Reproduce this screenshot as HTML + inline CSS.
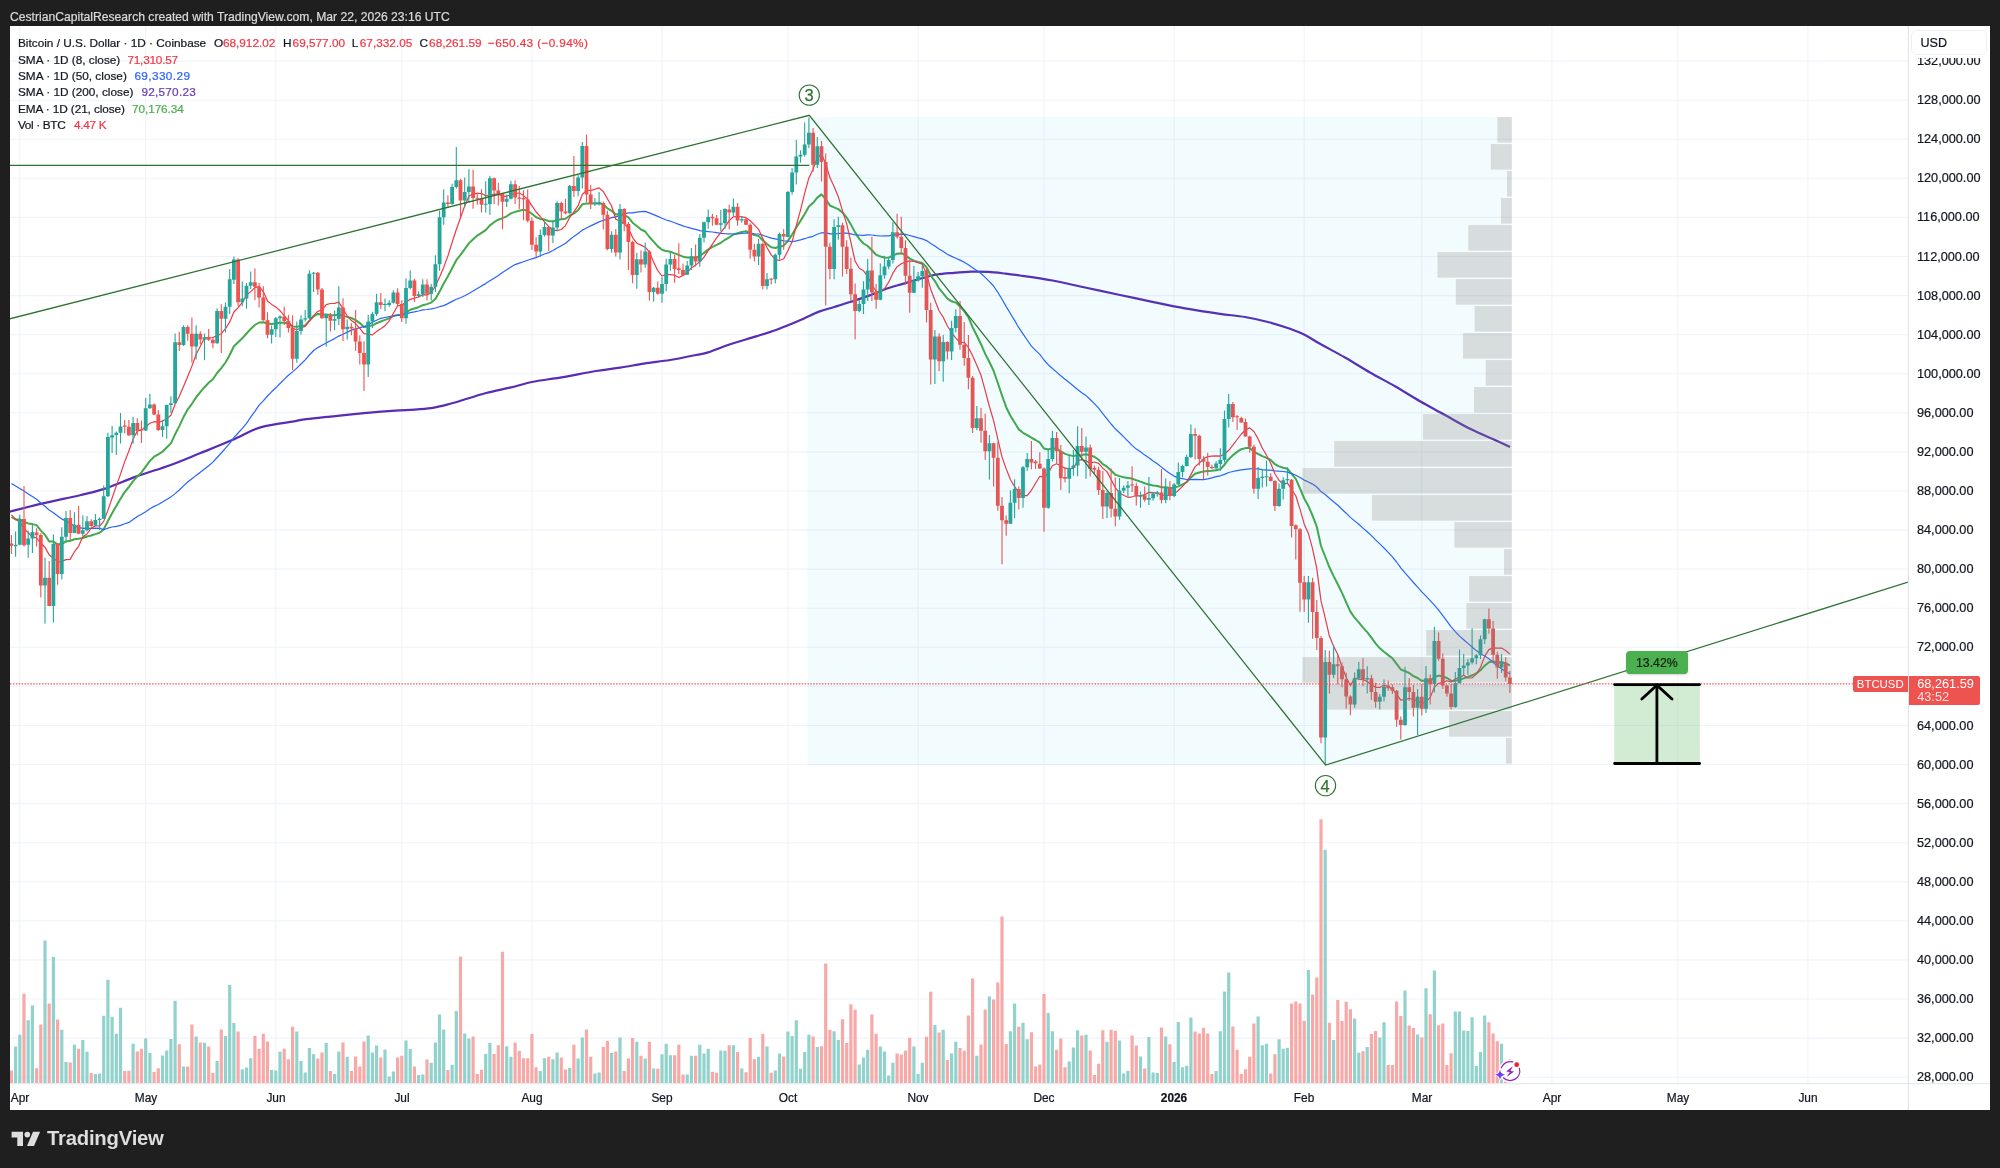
<!DOCTYPE html>
<html lang="en">
<head>
<meta charset="utf-8">
<title>BTCUSD chart</title>
<style>
html,body{margin:0;padding:0}
#hdr,.lg,.pl,.tl,#usd,#sym,#last,#pct,#tv{will-change:transform}
#hdr,.lg,.pl,.tl,#usd,#pct{-webkit-text-stroke:.22px currentColor}
body{width:2000px;height:1168px;background:#1f1f1f;position:relative;overflow:hidden;font-family:"Liberation Sans",sans-serif;color:#131722}
#hdr{position:absolute;left:9.8px;top:9.6px;font-size:12.15px;line-height:15px;color:#dadada;white-space:nowrap}
#panel{position:absolute;left:10px;top:26px;width:1980px;height:1084px;background:#fff}
#chart{position:absolute;left:0;top:0;width:2000px;height:1168px}
.lg{position:absolute;left:17.6px;font-size:11.8px;line-height:16px;height:16px;white-space:nowrap;color:#131722}
.lg span.a{position:absolute;top:0}
.red{color:#f23645}.blue{color:#2962ff}.pur{color:#673ab7}.grn{color:#4caf50}
.pl{position:absolute;left:1917px;font-size:12.7px;line-height:16px;white-space:nowrap;color:#131722}
.tl{position:absolute;top:1090.2px;width:60px;text-align:center;font-size:11.9px;line-height:16px;color:#131722}
.tl.b{font-weight:bold}
#usd{position:absolute;left:1911px;top:29.5px;width:76px;height:25px;border:1px solid #eef0f5;border-radius:5px;box-sizing:border-box;background:#fff;font-size:12.6px;line-height:24.2px;padding-left:8.5px}
#usdcover{position:absolute;left:1909.5px;top:26px;width:80.5px;height:31.6px;background:#fff}
#sym{position:absolute;left:1853px;top:676px;width:54.5px;height:16.2px;background:#ef5350;color:#fff;font-size:11.4px;line-height:16.4px;text-align:center;border-radius:2px 0 0 2px}
#last{position:absolute;left:1908.5px;top:676px;width:71.2px;height:29.4px;background:#ef5350;color:#fff;font-size:12.75px;line-height:13.4px;border-radius:0 2px 2px 0;padding:0.6px 0 0 8.2px;box-sizing:border-box}
#last i{font-style:normal;color:rgba(255,255,255,.82)}
#pct{position:absolute;left:1625.8px;top:651.2px;width:61.7px;height:23.1px;background:#4caf50;border-radius:4px;font-size:12.3px;line-height:25.6px;text-align:center;color:#14230f;box-shadow:0 1px 2px rgba(0,0,0,.18)}
.wv{position:absolute;width:20px;height:20px;line-height:20.6px;text-align:center;font-size:16.5px;color:#2e7332;will-change:transform;-webkit-text-stroke:.25px currentColor}
#tv{position:absolute;left:46.8px;top:1126.4px;font-size:20.3px;line-height:24px;font-weight:bold;color:#dedede;letter-spacing:-0.22px;white-space:nowrap}
</style>
</head>
<body>
<div id="hdr">CestrianCapitalResearch created with TradingView.com, Mar 22, 2026 23:16 UTC</div>
<div id="panel"></div>

<svg id="chart" width="2000" height="1168" viewBox="0 0 2000 1168">
<defs>
<clipPath id="pane"><rect x="10" y="26" width="1898" height="1057.5"/></clipPath>
</defs>
<g clip-path="url(#pane)">
<path d="M10 61.1H1908M10 100.2H1908M10 139.3H1908M10 178.3H1908M10 217.4H1908M10 256.5H1908M10 295.6H1908M10 334.7H1908M10 373.7H1908M10 412.8H1908M10 451.9H1908M10 491H1908M10 530.1H1908M10 569.1H1908M10 608.2H1908M10 647.3H1908M10 686.4H1908M10 725.5H1908M10 764.5H1908M10 803.6H1908M10 842.7H1908M10 881.8H1908M10 920.9H1908M10 959.9H1908M10 999H1908M10 1038.1H1908M10 1077.2H1908M19.8 26V1083.5M145.7 26V1083.5M275.8 26V1083.5M401.8 26V1083.5M531.9 26V1083.5M662 26V1083.5M787.9 26V1083.5M918.1 26V1083.5M1044 26V1083.5M1174.1 26V1083.5M1304.2 26V1083.5M1421.8 26V1083.5M1551.9 26V1083.5M1677.8 26V1083.5M1807.9 26V1083.5" stroke="#f0f3fa" stroke-width="1.1" fill="none"/>
<path d="M14 1083v-36.4h3.2V1083zM18.2 1083v-48.3h3.2V1083zM26.6 1083v-62.7h3.2V1083zM30.8 1083v-77.4h3.2V1083zM43.4 1083v-142.4h3.2V1083zM51.8 1083v-126h3.2V1083zM60.2 1083v-53.2h3.2V1083zM64.4 1083v-21h3.2V1083zM72.8 1083v-38.2h3.2V1083zM81.2 1083v-43.1h3.2V1083zM85.4 1083v-31.2h3.2V1083zM93.8 1083v-9.1h3.2V1083zM98 1083v-9.5h3.2V1083zM102.1 1083v-67.2h3.2V1083zM106.3 1083v-103.3h3.2V1083zM110.5 1083v-66.2h3.2V1083zM114.7 1083v-49.3h3.2V1083zM118.9 1083v-75.3h3.2V1083zM131.5 1083v-39.2h3.2V1083zM144.1 1083v-44.5h3.2V1083zM148.3 1083v-30.1h3.2V1083zM160.9 1083v-27.6h3.2V1083zM165.1 1083v-32.5h3.2V1083zM169.3 1083v-44.1h3.2V1083zM173.5 1083v-82.2h3.2V1083zM181.9 1083v-16.4h3.2V1083zM194.5 1083v-46.5h3.2V1083zM202.9 1083v-40.2h3.2V1083zM215.5 1083v-22.1h3.2V1083zM223.9 1083v-46.9h3.2V1083zM228.1 1083v-98h3.2V1083zM232.3 1083v-59.9h3.2V1083zM240.7 1083v-13.7h3.2V1083zM244.9 1083v-15.4h3.2V1083zM249.1 1083v-24.8h3.2V1083zM270 1083v-12.9h3.2V1083zM274.2 1083v-12.6h3.2V1083zM278.4 1083v-31.2h3.2V1083zM295.2 1083v-51.5h3.2V1083zM299.4 1083v-22.1h3.2V1083zM303.6 1083v-10.5h3.2V1083zM307.8 1083v-35h3.2V1083zM312 1083v-28.7h3.2V1083zM324.6 1083v-39.9h3.2V1083zM333 1083v-9.1h3.2V1083zM337.2 1083v-31.5h3.2V1083zM345.6 1083v-26.3h3.2V1083zM366.6 1083v-47.6h3.2V1083zM370.8 1083v-30.5h3.2V1083zM375 1083v-37.4h3.2V1083zM383.4 1083v-33.6h3.2V1083zM387.6 1083v-6.6h3.2V1083zM391.8 1083v-11.5h3.2V1083zM404.4 1083v-42.4h3.2V1083zM408.6 1083v-34h3.2V1083zM417 1083v-8.1h3.2V1083zM421.2 1083v-8.4h3.2V1083zM429.6 1083v-20.3h3.2V1083zM433.8 1083v-40.6h3.2V1083zM437.9 1083v-68.6h3.2V1083zM442.1 1083v-53.5h3.2V1083zM450.5 1083v-18.2h3.2V1083zM454.7 1083v-72.1h3.2V1083zM463.1 1083v-49.4h3.2V1083zM467.3 1083v-44.5h3.2V1083zM484.1 1083v-29.1h3.2V1083zM488.3 1083v-39.9h3.2V1083zM505.1 1083v-36.8h3.2V1083zM509.3 1083v-26.3h3.2V1083zM538.7 1083v-11.9h3.2V1083zM542.9 1083v-24.8h3.2V1083zM551.3 1083v-23.8h3.2V1083zM555.5 1083v-30.5h3.2V1083zM568.1 1083v-15.1h3.2V1083zM576.5 1083v-24.5h3.2V1083zM580.7 1083v-45.5h3.2V1083zM593.3 1083v-9.5h3.2V1083zM597.5 1083v-10.5h3.2V1083zM610 1083v-30.1h3.2V1083zM618.4 1083v-45.5h3.2V1083zM635.2 1083v-41.3h3.2V1083zM643.6 1083v-24.5h3.2V1083zM652 1083v-14.4h3.2V1083zM660.4 1083v-28.7h3.2V1083zM664.6 1083v-39.2h3.2V1083zM668.8 1083v-27.7h3.2V1083zM685.6 1083v-8.4h3.2V1083zM689.8 1083v-27.3h3.2V1083zM698.2 1083v-38.2h3.2V1083zM702.4 1083v-29.4h3.2V1083zM706.6 1083v-34.3h3.2V1083zM719.2 1083v-32.5h3.2V1083zM723.4 1083v-32.2h3.2V1083zM731.8 1083v-37.8h3.2V1083zM740.2 1083v-14.4h3.2V1083zM757 1083v-26.3h3.2V1083zM765.4 1083v-36.4h3.2V1083zM773.7 1083v-12.6h3.2V1083zM777.9 1083v-29.4h3.2V1083zM786.3 1083v-51.4h3.2V1083zM790.5 1083v-46.9h3.2V1083zM794.7 1083v-62.7h3.2V1083zM798.9 1083v-14.3h3.2V1083zM803.1 1083v-31.1h3.2V1083zM807.3 1083v-48.3h3.2V1083zM815.7 1083v-36h3.2V1083zM832.5 1083v-51.8h3.2V1083zM836.7 1083v-43.1h3.2V1083zM857.7 1083v-18.5h3.2V1083zM861.9 1083v-25.6h3.2V1083zM866.1 1083v-33.3h3.2V1083zM878.7 1083v-36.4h3.2V1083zM882.9 1083v-31.5h3.2V1083zM887.1 1083v-7.4h3.2V1083zM891.3 1083v-20.3h3.2V1083zM912.3 1083v-36.4h3.2V1083zM916.5 1083v-9.1h3.2V1083zM920.7 1083v-20.3h3.2V1083zM933.3 1083v-58.1h3.2V1083zM941.6 1083v-53.2h3.2V1083zM950 1083v-29.4h3.2V1083zM954.2 1083v-41.3h3.2V1083zM975.2 1083v-27.3h3.2V1083zM987.8 1083v-86.5h3.2V1083zM1008.8 1083v-51.8h3.2V1083zM1013 1083v-79.4h3.2V1083zM1021.4 1083v-60.2h3.2V1083zM1025.6 1083v-43.7h3.2V1083zM1046.6 1083v-70h3.2V1083zM1050.8 1083v-51.8h3.2V1083zM1067.6 1083v-21.4h3.2V1083zM1071.8 1083v-35.4h3.2V1083zM1076 1083v-52.8h3.2V1083zM1084.4 1083v-48.3h3.2V1083zM1105.4 1083v-41.3h3.2V1083zM1117.9 1083v-42.4h3.2V1083zM1122.1 1083v-9.5h3.2V1083zM1126.3 1083v-12.3h3.2V1083zM1138.9 1083v-26.6h3.2V1083zM1147.3 1083v-45.9h3.2V1083zM1151.5 1083v-10.5h3.2V1083zM1155.7 1083v-10.1h3.2V1083zM1164.1 1083v-46.5h3.2V1083zM1172.5 1083v-21h3.2V1083zM1176.7 1083v-60.9h3.2V1083zM1180.9 1083v-15.7h3.2V1083zM1185.1 1083v-17.2h3.2V1083zM1189.3 1083v-65.5h3.2V1083zM1214.5 1083v-11.9h3.2V1083zM1218.7 1083v-51.8h3.2V1083zM1222.9 1083v-91.4h3.2V1083zM1227.1 1083v-110.6h3.2V1083zM1256.5 1083v-66.5h3.2V1083zM1260.7 1083v-37.8h3.2V1083zM1264.9 1083v-39.2h3.2V1083zM1277.5 1083v-43.7h3.2V1083zM1281.6 1083v-34.3h3.2V1083zM1285.8 1083v-35.3h3.2V1083zM1306.8 1083v-112.9h3.2V1083zM1323.6 1083v-233.3h3.2V1083zM1332 1083v-42.9h3.2V1083zM1353 1083v-64.5h3.2V1083zM1357.2 1083v-30.3h3.2V1083zM1365.6 1083v-36h3.2V1083zM1378.2 1083v-45.4h3.2V1083zM1382.4 1083v-60.8h3.2V1083zM1403.4 1083v-92.6h3.2V1083zM1416 1083v-48.4h3.2V1083zM1424.4 1083v-94.8h3.2V1083zM1432.8 1083v-112.4h3.2V1083zM1453.7 1083v-71.5h3.2V1083zM1457.9 1083v-71.5h3.2V1083zM1462.1 1083v-52.6h3.2V1083zM1466.3 1083v-52.1h3.2V1083zM1470.5 1083v-65.8h3.2V1083zM1474.7 1083v-16.9h3.2V1083zM1478.9 1083v-31h3.2V1083zM1483.1 1083v-67.5h3.2V1083zM1499.9 1083v-39.2h3.2V1083z" fill="#92d2cc"/>
<path d="M9.8 1083v-12.6h3.2V1083zM22.4 1083v-89.3h3.2V1083zM35 1083v-14.7h3.2V1083zM39.2 1083v-58.5h3.2V1083zM47.6 1083v-79.5h3.2V1083zM56 1083v-63.4h3.2V1083zM68.6 1083v-20.6h3.2V1083zM77 1083v-34.3h3.2V1083zM89.6 1083v-10.1h3.2V1083zM123.1 1083v-11.9h3.2V1083zM127.3 1083v-12.3h3.2V1083zM135.7 1083v-31.5h3.2V1083zM139.9 1083v-34.3h3.2V1083zM152.5 1083v-10.9h3.2V1083zM156.7 1083v-14.7h3.2V1083zM177.7 1083v-38.8h3.2V1083zM186.1 1083v-16.4h3.2V1083zM190.3 1083v-58.5h3.2V1083zM198.7 1083v-40.6h3.2V1083zM207.1 1083v-36.4h3.2V1083zM211.3 1083v-10.1h3.2V1083zM219.7 1083v-53.5h3.2V1083zM236.5 1083v-51.4h3.2V1083zM253.3 1083v-46.9h3.2V1083zM257.5 1083v-34.3h3.2V1083zM261.7 1083v-49.3h3.2V1083zM265.9 1083v-41.6h3.2V1083zM282.6 1083v-34.3h3.2V1083zM286.8 1083v-23.8h3.2V1083zM291 1083v-56.3h3.2V1083zM316.2 1083v-24.5h3.2V1083zM320.4 1083v-30.5h3.2V1083zM328.8 1083v-11.9h3.2V1083zM341.4 1083v-40.6h3.2V1083zM349.8 1083v-11.9h3.2V1083zM354 1083v-26.6h3.2V1083zM358.2 1083v-16.5h3.2V1083zM362.4 1083v-41.6h3.2V1083zM379.2 1083v-25.6h3.2V1083zM396 1083v-25.6h3.2V1083zM400.2 1083v-27.3h3.2V1083zM412.8 1083v-16.5h3.2V1083zM425.4 1083v-23.4h3.2V1083zM446.3 1083v-12.9h3.2V1083zM458.9 1083v-126.4h3.2V1083zM471.5 1083v-46.5h3.2V1083zM475.7 1083v-9.1h3.2V1083zM479.9 1083v-13.3h3.2V1083zM492.5 1083v-29.1h3.2V1083zM496.7 1083v-37.8h3.2V1083zM500.9 1083v-131.3h3.2V1083zM513.5 1083v-40.6h3.2V1083zM517.7 1083v-32.2h3.2V1083zM521.9 1083v-24.8h3.2V1083zM526.1 1083v-24.8h3.2V1083zM530.3 1083v-49h3.2V1083zM534.5 1083v-15.7h3.2V1083zM547.1 1083v-26.3h3.2V1083zM559.7 1083v-25.6h3.2V1083zM563.9 1083v-13.6h3.2V1083zM572.3 1083v-38.2h3.2V1083zM584.9 1083v-53.5h3.2V1083zM589.1 1083v-26.3h3.2V1083zM601.7 1083v-36h3.2V1083zM605.8 1083v-42h3.2V1083zM614.2 1083v-31.5h3.2V1083zM622.6 1083v-11.9h3.2V1083zM626.8 1083v-24.5h3.2V1083zM631 1083v-45.1h3.2V1083zM639.4 1083v-27.3h3.2V1083zM647.8 1083v-41.3h3.2V1083zM656.2 1083v-14.3h3.2V1083zM673 1083v-27.7h3.2V1083zM677.2 1083v-38.2h3.2V1083zM681.4 1083v-8.4h3.2V1083zM694 1083v-27.3h3.2V1083zM710.8 1083v-11.2h3.2V1083zM715 1083v-10.2h3.2V1083zM727.6 1083v-37.8h3.2V1083zM736 1083v-31.1h3.2V1083zM744.4 1083v-10.8h3.2V1083zM748.6 1083v-45.1h3.2V1083zM752.8 1083v-23.8h3.2V1083zM761.2 1083v-49h3.2V1083zM769.6 1083v-10.2h3.2V1083zM782.1 1083v-26.6h3.2V1083zM811.5 1083v-46.5h3.2V1083zM819.9 1083v-36.8h3.2V1083zM824.1 1083v-119.4h3.2V1083zM828.3 1083v-53.2h3.2V1083zM840.9 1083v-63.7h3.2V1083zM845.1 1083v-39.9h3.2V1083zM849.3 1083v-78.7h3.2V1083zM853.5 1083v-73.2h3.2V1083zM870.3 1083v-68.6h3.2V1083zM874.5 1083v-49.3h3.2V1083zM895.5 1083v-29.4h3.2V1083zM899.7 1083v-28.4h3.2V1083zM903.9 1083v-32.5h3.2V1083zM908.1 1083v-45.2h3.2V1083zM924.9 1083v-46.2h3.2V1083zM929.1 1083v-91.3h3.2V1083zM937.5 1083v-50.4h3.2V1083zM945.8 1083v-23.1h3.2V1083zM958.4 1083v-35h3.2V1083zM962.6 1083v-32.2h3.2V1083zM966.8 1083v-67.6h3.2V1083zM971 1083v-104.6h3.2V1083zM979.4 1083v-38.5h3.2V1083zM983.6 1083v-73.5h3.2V1083zM992 1083v-83.6h3.2V1083zM996.2 1083v-100.4h3.2V1083zM1000.4 1083v-166.5h3.2V1083zM1004.6 1083v-38.9h3.2V1083zM1017.2 1083v-56.3h3.2V1083zM1029.8 1083v-50.8h3.2V1083zM1034 1083v-16.5h3.2V1083zM1038.2 1083v-18.5h3.2V1083zM1042.4 1083v-88.9h3.2V1083zM1055 1083v-33.2h3.2V1083zM1059.2 1083v-44.4h3.2V1083zM1063.4 1083v-15.7h3.2V1083zM1080.2 1083v-47.6h3.2V1083zM1088.6 1083v-32.5h3.2V1083zM1092.8 1083v-8.1h3.2V1083zM1097 1083v-19.2h3.2V1083zM1101.2 1083v-52.8h3.2V1083zM1109.5 1083v-53.2h3.2V1083zM1113.7 1083v-52.2h3.2V1083zM1130.5 1083v-47.6h3.2V1083zM1134.7 1083v-37.4h3.2V1083zM1143.1 1083v-14.4h3.2V1083zM1159.9 1083v-55.6h3.2V1083zM1168.3 1083v-38.8h3.2V1083zM1193.5 1083v-51.4h3.2V1083zM1197.7 1083v-49.4h3.2V1083zM1201.9 1083v-55.3h3.2V1083zM1206.1 1083v-49.4h3.2V1083zM1210.3 1083v-9.1h3.2V1083zM1231.3 1083v-56.4h3.2V1083zM1235.5 1083v-33.3h3.2V1083zM1239.7 1083v-9.1h3.2V1083zM1243.9 1083v-13.7h3.2V1083zM1248.1 1083v-26.3h3.2V1083zM1252.3 1083v-59.5h3.2V1083zM1269.1 1083v-9.5h3.2V1083zM1273.3 1083v-28.7h3.2V1083zM1290 1083v-79.4h3.2V1083zM1294.2 1083v-81.4h3.2V1083zM1298.4 1083v-79.4h3.2V1083zM1302.6 1083v-62.1h3.2V1083zM1311 1083v-88.6h3.2V1083zM1315.2 1083v-105.5h3.2V1083zM1319.4 1083v-263.8h3.2V1083zM1327.8 1083v-60.3h3.2V1083zM1336.2 1083v-83.1h3.2V1083zM1340.4 1083v-62.1h3.2V1083zM1344.6 1083v-81.2h3.2V1083zM1348.8 1083v-73.7h3.2V1083zM1361.4 1083v-31.8h3.2V1083zM1369.8 1083v-49.1h3.2V1083zM1374 1083v-52.1h3.2V1083zM1386.6 1083v-17.9h3.2V1083zM1390.8 1083v-17.9h3.2V1083zM1395 1083v-81.4h3.2V1083zM1399.2 1083v-67h3.2V1083zM1407.6 1083v-57.6h3.2V1083zM1411.8 1083v-55.1h3.2V1083zM1420.2 1083v-45.4h3.2V1083zM1428.6 1083v-68.8h3.2V1083zM1437 1083v-57.8h3.2V1083zM1441.2 1083v-59.6h3.2V1083zM1445.3 1083v-17.9h3.2V1083zM1449.5 1083v-29.8h3.2V1083zM1487.3 1083v-60.8h3.2V1083zM1491.5 1083v-49.6h3.2V1083zM1495.7 1083v-41.7h3.2V1083zM1504.1 1083v-20.6h3.2V1083zM1508.3 1083v-24.1h3.2V1083z" fill="#f7a9a7"/>

<path d="M9.9 511.6 C15.4 510.2 31.1 506.1 42.8 503.4 C54.5 500.7 70 497.5 80 495.2 C90 492.9 93 492.5 102.5 489.4 C112 486.3 125.4 480.4 136.7 476.4 C147.9 472.4 159.5 469 170 465.2 C180.5 461.4 189.7 457.4 199.9 453.3 C210.1 449.2 222.1 444.5 231 440.6 C239.9 436.7 247.4 432.4 253.1 430 C258.8 427.6 258.3 427.6 265.1 426.1 C271.9 424.7 287.7 422.4 294 421.3 C300.3 420.2 296.7 420.4 302.7 419.6 C308.7 418.8 321.4 417.5 330 416.6 C338.6 415.7 344.4 415 354.1 414.1 C363.8 413.2 377.4 412 388.4 411.2 C399.4 410.4 412.4 409.8 420 409.2 C427.6 408.6 429 408.5 434 407.6 C439 406.7 445.7 404.9 450 403.8 C454.3 402.7 454 402.8 460 401 C466 399.2 477.7 395.2 486 393 C494.3 390.8 502.3 389.4 510 387.6 C517.7 385.8 523.7 383.7 532 382 C540.3 380.3 549.3 379.4 560 377.6 C570.7 375.8 586 372.7 596 371 C606 369.3 612 368.8 620 367.6 C628 366.4 635.7 364.9 644 363.6 C652.3 362.3 661.3 361.4 670 360 C678.7 358.6 689.7 356.3 696 355 C702.3 353.7 702.7 354.1 708 352.4 C713.3 350.7 720 347.7 728 345 C736 342.3 748 338.9 756 336.4 C764 333.9 770.7 331.9 776 330 C781.3 328.1 783.3 327.1 788 325.2 C792.7 323.3 798.8 320.7 804 318.4 C809.2 316.1 814 313.5 819 311.6 C824 309.7 828.9 308.6 834.2 307 C839.5 305.4 845.3 303.7 851 301.8 C856.7 299.9 862.7 298 868.5 295.9 C874.3 293.8 879.9 291 885.6 289 C891.3 287 897 285.6 902.7 283.9 C908.4 282.2 914.2 280.4 919.9 278.8 C925.6 277.2 931.3 275.5 937 274.5 C942.7 273.5 948.4 273.3 954.1 272.8 C959.8 272.3 965.5 271.8 971.2 271.6 C976.9 271.5 982.7 271.6 988.4 271.9 C994.1 272.2 1000.2 273 1005.5 273.6 C1010.8 274.2 1012.2 274.4 1020 275.5 C1027.8 276.6 1041.7 278.5 1052.5 280.5 C1063.3 282.5 1073.8 285.1 1085 287.5 C1096.2 289.9 1109.2 292.7 1120 295 C1130.8 297.3 1139.2 299.1 1150 301.3 C1160.8 303.5 1173.3 306.2 1185 308.3 C1196.7 310.4 1210 312.4 1220 313.8 C1230 315.2 1236.7 315.6 1245 317 C1253.3 318.4 1262.5 320.5 1270 322.5 C1277.5 324.5 1284.2 326.7 1290 328.8 C1295.8 330.9 1300 332.5 1305 335 C1310 337.5 1313.3 340.1 1320 343.8 C1326.7 347.6 1336.7 352.7 1345 357.5 C1353.3 362.3 1361.7 367.7 1370 372.5 C1378.3 377.3 1386.7 381.5 1395 386.3 C1403.3 391.1 1411.7 396.5 1420 401.3 C1428.3 406.1 1436.7 410.4 1445 415 C1453.3 419.6 1461.7 424.6 1470 428.8 C1478.3 433 1488.3 437 1495 440 C1501.7 443 1507.5 445.8 1510 447" stroke="#5a2cb4" stroke-width="2.2" fill="none" stroke-linejoin="round"/>
<path d="M11.4 517 L15.6 519.5 L19.8 519.5 L24 521.8 L28.2 523.4 L32.4 524.1 L36.6 525.1 L40.8 530.6 L45 534.9 L49.2 541.4 L53.4 541.6 L57.6 544.6 L61.8 543.8 L66 541.5 L70.2 540.7 L74.4 539.3 L78.6 538.8 L82.8 538 L87 536.5 L91.2 535.5 L95.4 534.1 L99.6 532.7 L103.7 529.4 L107.9 521 L112.1 513.2 L116.3 505.9 L120.5 498.7 L124.7 492.1 L128.9 487 L133.1 481.1 L137.3 476.6 L141.5 472.4 L145.7 466.6 L149.9 460.9 L154.1 456.7 L158.3 454.3 L162.5 451.7 L166.7 447.5 L170.9 443.4 L175.1 434.3 L179.3 426.1 L183.5 417.1 L187.7 409.5 L191.9 403.8 L196.1 397.4 L200.3 392.2 L204.5 387.2 L208.7 382.8 L212.9 379.2 L217.1 373 L221.3 368.1 L225.5 362.5 L229.7 355 L233.9 346.3 L238.1 342.3 L242.3 338.3 L246.5 333.5 L250.7 328.9 L254.9 325 L259.1 322.5 L263.3 322.3 L267.5 323.5 L271.6 324 L275.8 323.5 L280 322.8 L284.2 322.7 L288.4 323.2 L292.6 326.4 L296.8 326.8 L301 326.1 L305.2 325.4 L309.4 320.7 L313.6 316.4 L317.8 313.9 L322 314.3 L326.2 314.4 L330.4 315 L334.6 315.3 L338.8 314.6 L343 315.9 L347.2 316.9 L351.4 318 L355.6 320.1 L359.8 323.1 L364 326.9 L368.2 326.4 L372.4 325.3 L376.6 323.2 L380.8 321.5 L385 319.9 L389.2 318.4 L393.4 316 L397.6 314.9 L401.8 315.2 L406 312.7 L410.2 309.8 L414.4 308.5 L418.6 307.2 L422.8 305.2 L427 304.1 L431.2 302.6 L435.4 299.1 L439.6 291.6 L443.7 283.5 L447.9 276.3 L452.1 268.2 L456.3 260.2 L460.5 254.8 L464.7 249.1 L468.9 243.4 L473.1 239.2 L477.3 235.6 L481.5 232.8 L485.7 230.1 L489.9 225.4 L494.1 222.2 L498.3 219.7 L502.5 218.1 L506.7 216.3 L510.9 213.4 L515.1 211.9 L519.3 210.7 L523.5 209.7 L527.7 210.7 L531.9 213.8 L536.1 217.2 L540.3 218.9 L544.5 219.6 L548.7 221 L552.9 221.6 L557.1 219.9 L561.3 219.2 L565.5 218.7 L569.7 215.7 L573.9 213.4 L578.1 210.2 L582.3 204.3 L586.5 203.4 L590.7 203.5 L594.9 203.4 L599.1 203.3 L603.3 204.3 L607.4 208.4 L611.6 210.8 L615.8 214.6 L620 214.1 L624.2 215 L628.4 217.4 L632.6 222.7 L636.8 226 L641 229.5 L645.2 231.5 L649.4 237 L653.6 241.6 L657.8 246.4 L662 249.8 L666.2 251.1 L670.4 251.8 L674.6 253.4 L678.8 254.9 L683 256.7 L687.2 257.5 L691.4 257.4 L695.6 257.8 L699.8 256 L704 252.9 L708.2 249.6 L712.4 246.8 L716.6 244.8 L720.8 242.8 L725 239.8 L729.2 237.3 L733.4 234.5 L737.6 233.2 L741.8 232 L746 231.3 L750.2 233 L754.4 235.1 L758.6 235.9 L762.8 240.5 L767 244 L771.2 247.3 L775.3 248 L779.5 246.7 L783.7 245.7 L787.9 240.9 L792.1 234.6 L796.3 227.5 L800.5 220.9 L804.7 214 L808.9 206.6 L813.1 202.8 L817.3 197.6 L821.5 194.4 L825.7 199.1 L829.9 205.5 L834.1 207.4 L838.3 209.1 L842.5 212.5 L846.7 217.6 L850.9 224.6 L855.1 232.4 L859.3 238.9 L863.5 243.5 L867.7 246 L871.9 250.2 L876.1 254.7 L880.3 256.6 L884.5 257.5 L888.7 257.7 L892.9 255.4 L897.1 253.7 L901.3 253.2 L905.5 255.2 L909.7 258.6 L913.9 260.6 L918.1 262 L922.3 262.9 L926.5 267.1 L930.7 275.5 L934.9 281.1 L939.1 288.4 L943.2 293.3 L947.4 298.6 L951.6 301.3 L955.8 302.6 L960 306.4 L964.2 311.1 L968.4 317.2 L972.6 327.2 L976.8 335.5 L981 344.2 L985.2 353.9 L989.4 362 L993.6 370.7 L997.8 383 L1002 395.5 L1006.2 407.2 L1010.4 415.8 L1014.6 422.5 L1018.8 429.4 L1023 432.8 L1027.2 435.2 L1031.4 437.7 L1035.6 440 L1039.8 442.6 L1044 448.5 L1048.2 449.5 L1052.4 448.4 L1056.6 448.7 L1060.8 451.4 L1065 453.9 L1069.2 455.1 L1073.4 456.1 L1077.6 455.2 L1081.8 454.9 L1086 454.2 L1090.2 455.5 L1094.4 456.8 L1098.6 459.8 L1102.8 464.1 L1107 466.7 L1111.1 470.5 L1115.3 474.7 L1119.5 476.1 L1123.7 477.2 L1127.9 477.9 L1132.1 478.6 L1136.3 480.2 L1140.5 481.6 L1144.7 483.3 L1148.9 484.6 L1153.1 485.4 L1157.3 486 L1161.5 487.3 L1165.7 487.3 L1169.9 488.1 L1174.1 487.8 L1178.3 486.4 L1182.5 484.5 L1186.7 482 L1190.9 477.6 L1195.1 473.8 L1199.3 472.5 L1203.5 471.5 L1207.7 471.1 L1211.9 470.8 L1216.1 470.2 L1220.3 469.2 L1224.5 464.7 L1228.7 459.2 L1232.9 455.3 L1237.1 451.9 L1241.3 449.2 L1245.5 448.1 L1249.7 447.9 L1253.9 451.7 L1258.1 454 L1262.3 456.1 L1266.5 457.9 L1270.7 460 L1274.9 464.2 L1279 466.4 L1283.2 467.7 L1287.4 468.7 L1291.6 473.9 L1295.8 478.9 L1300 488.4 L1304.2 498.5 L1308.4 506.1 L1312.6 515.7 L1316.8 526.8 L1321 546 L1325.2 556.5 L1329.4 567.3 L1333.6 576.1 L1337.8 584.3 L1342 592.9 L1346.2 602.3 L1350.4 611.6 L1354.6 617.7 L1358.8 622.4 L1363 627.6 L1367.2 632.1 L1371.4 637.6 L1375.6 643.4 L1379.8 648.3 L1384 651.8 L1388.2 655.1 L1392.4 658.3 L1396.6 663.9 L1400.8 669.5 L1405 671.1 L1409.2 673 L1413.4 676.1 L1417.6 678 L1421.8 680.8 L1426 680.6 L1430.2 680.9 L1434.4 677.2 L1438.6 675.6 L1442.8 676.5 L1446.9 678 L1451.1 680.7 L1455.3 680.9 L1459.5 679.7 L1463.7 678.4 L1467.9 677 L1472.1 675.3 L1476.3 673.4 L1480.5 670.3 L1484.7 665.7 L1488.9 662.3 L1493.1 661.6 L1497.3 662.2 L1501.5 662.1 L1505.7 663.5 L1509.9 665.4" stroke="#44a948" stroke-width="2" fill="none" stroke-linejoin="round"/>
<path d="M11.4 483.4 L15.6 486.1 L19.8 488.5 L24 491.1 L28.2 494 L32.4 496.5 L36.6 499.2 L40.8 503 L45 506.3 L49.2 510.1 L53.4 512.7 L57.6 516 L61.8 518.9 L66 521.1 L70.2 523.6 L74.4 525.9 L78.6 527.4 L82.8 528.3 L87 528.2 L91.2 528.3 L95.4 528.2 L99.6 528.3 L103.7 529.6 L107.9 528.2 L112.1 527 L116.3 526.3 L120.5 525.4 L124.7 523.8 L128.9 522.4 L133.1 519.6 L137.3 516.5 L141.5 514.3 L145.7 511.8 L149.9 508.7 L154.1 506.4 L158.3 504.5 L162.5 502.1 L166.7 499.6 L170.9 496.9 L175.1 493.6 L179.3 490 L183.5 485.9 L187.7 482 L191.9 478.7 L196.1 475.4 L200.3 472.3 L204.5 469 L208.7 465.8 L212.9 462.1 L217.1 457.5 L221.3 453 L225.5 448.2 L229.7 443.4 L233.9 437.7 L238.1 433 L242.3 428.3 L246.5 423.3 L250.7 417.2 L254.9 411.4 L259.1 405.2 L263.3 400.8 L267.5 396 L271.6 391.8 L275.8 387.8 L280 383.5 L284.2 379.4 L288.4 375.3 L292.6 371.9 L296.8 368.1 L301 364 L305.2 359.9 L309.4 355 L313.6 350.5 L317.8 347.6 L322 345.3 L326.2 342.9 L330.4 340.8 L334.6 338.6 L338.8 336.1 L343 334.2 L347.2 332.1 L351.4 330.1 L355.6 328.8 L359.8 327.7 L364 326.7 L368.2 324.6 L372.4 322.3 L376.6 320.3 L380.8 318.3 L385 317.5 L389.2 316.7 L393.4 316 L397.6 315.4 L401.8 314.8 L406 313.9 L410.2 312.7 L414.4 311.9 L418.6 311 L422.8 309.8 L427 309.5 L431.2 308.8 L435.4 308 L439.6 306.7 L443.7 305.6 L447.9 303.6 L452.1 301.4 L456.3 299.3 L460.5 297.7 L464.7 295.8 L468.9 293.5 L473.1 291.1 L477.3 288.4 L481.5 285.9 L485.7 283.6 L489.9 280.8 L494.1 278.2 L498.3 275.5 L502.5 272.4 L506.7 269.8 L510.9 267.1 L515.1 264.6 L519.3 263.1 L523.5 261.7 L527.7 260.3 L531.9 258.8 L536.1 257.6 L540.3 255.8 L544.5 254 L548.7 252.6 L552.9 250.5 L557.1 248.1 L561.3 245.7 L565.5 243.2 L569.7 239.8 L573.9 236.4 L578.1 233.5 L582.3 230.1 L586.5 228 L590.7 225.9 L594.9 223.9 L599.1 221.9 L603.3 220.3 L607.4 219.2 L611.6 217.6 L615.8 216.9 L620 215.4 L624.2 214 L628.4 212.9 L632.6 212.8 L636.8 212.1 L641 211.6 L645.2 211.4 L649.4 212.9 L653.6 214.6 L657.8 216.4 L662 218.3 L666.2 220 L670.4 221.2 L674.6 222.7 L678.8 224.4 L683 225.9 L687.2 227.2 L691.4 228.3 L695.6 229.4 L699.8 230.6 L704 231.2 L708.2 231.7 L712.4 232 L716.6 232.6 L720.8 233.3 L725 233.6 L729.2 233.8 L733.4 234 L737.6 234 L741.8 233.5 L746 233 L750.2 233.2 L754.4 233.8 L758.6 234 L762.8 235.2 L767 236.7 L771.2 238.1 L775.3 238.9 L779.5 239.8 L783.7 240.8 L787.9 241 L792.1 241.6 L796.3 240.8 L800.5 239.8 L804.7 238.7 L808.9 237.3 L813.1 236.3 L817.3 234.2 L821.5 232.8 L825.7 232.7 L829.9 233.9 L834.1 233.9 L838.3 233.6 L842.5 233 L846.7 233.2 L850.9 233.8 L855.1 235 L859.3 235.2 L863.5 235.3 L867.7 234.8 L871.9 235 L876.1 235.7 L880.3 236 L884.5 235.9 L888.7 235.8 L892.9 234.9 L897.1 234.3 L901.3 234.2 L905.5 234.4 L909.7 235.5 L913.9 236.7 L918.1 237.9 L922.3 238.9 L926.5 240.6 L930.7 243.4 L934.9 245.9 L939.1 248.9 L943.2 251.6 L947.4 254.2 L951.6 256.4 L955.8 258.2 L960 260.1 L964.2 262.2 L968.4 264.8 L972.6 267.7 L976.8 270.4 L981 273.5 L985.2 277.4 L989.4 281.6 L993.6 286 L997.8 292.3 L1002 299.2 L1006.2 306.6 L1010.4 313.5 L1014.6 320.4 L1018.8 327.7 L1023 333.8 L1027.2 340 L1031.4 346.1 L1035.6 350.4 L1039.8 354.4 L1044 360 L1048.2 364.7 L1052.4 368.5 L1056.6 372.1 L1060.8 375.8 L1065 379.2 L1069.2 382.5 L1073.4 386 L1077.6 389.5 L1081.8 392.7 L1086 395.6 L1090.2 399.5 L1094.4 403.6 L1098.6 408.2 L1102.8 413.7 L1107 418.8 L1111.1 424 L1115.3 428.8 L1119.5 432.8 L1123.7 436.9 L1127.9 441.1 L1132.1 445.4 L1136.3 449.1 L1140.5 451.8 L1144.7 455.1 L1148.9 457.8 L1153.1 460.9 L1157.3 463.7 L1161.5 467.1 L1165.7 470.5 L1169.9 473.6 L1174.1 476.1 L1178.3 478 L1182.5 478.7 L1186.7 479.5 L1190.9 479.6 L1195.1 479.3 L1199.3 479.6 L1203.5 479.7 L1207.7 478.9 L1211.9 477.8 L1216.1 476.6 L1220.3 475.8 L1224.5 474.4 L1228.7 472.5 L1232.9 471.5 L1237.1 470.7 L1241.3 469.9 L1245.5 469.3 L1249.7 468.9 L1253.9 468.5 L1258.1 468.9 L1262.3 469.7 L1266.5 470.2 L1270.7 470.2 L1274.9 470.8 L1279 471.2 L1283.2 471.5 L1287.4 472.1 L1291.6 473.6 L1295.8 475.3 L1300 477.5 L1304.2 480.1 L1308.4 482 L1312.6 484.1 L1316.8 487 L1321 491.6 L1325.2 494.5 L1329.4 498.2 L1333.6 501.7 L1337.8 505.3 L1342 509.2 L1346.2 513.2 L1350.4 517.4 L1354.6 520.9 L1358.8 524.3 L1363 528.1 L1367.2 531.8 L1371.4 535.6 L1375.6 539.9 L1379.8 543.9 L1384 548 L1388.2 552.3 L1392.4 556.8 L1396.6 562 L1400.8 567.9 L1405 572.9 L1409.2 577.6 L1413.4 582.5 L1417.6 587.1 L1421.8 591.9 L1426 596.2 L1430.2 600.7 L1434.4 605.1 L1438.6 610.2 L1442.8 615.6 L1446.9 621.1 L1451.1 626.8 L1455.3 631.7 L1459.5 636.1 L1463.7 639.7 L1467.9 643.4 L1472.1 647 L1476.3 650.6 L1480.5 653.7 L1484.7 656 L1488.9 658.8 L1493.1 662.3 L1497.3 666.1 L1501.5 668.8 L1505.7 671.7 L1509.9 673.8" stroke="#2962ff" stroke-width="1.2" fill="none" stroke-linejoin="round"/>
<path d="M11.4 514.9 L15.6 519.2 L19.8 522.1 L24 528.2 L28.2 532.8 L32.4 536.9 L36.6 538 L40.8 543.3 L45 547.3 L49.2 554.9 L53.4 558 L57.6 561.6 L61.8 561.4 L66 559.6 L70.2 559.4 L74.4 551.8 L78.6 546.3 L82.8 536.8 L87 534 L91.2 528 L95.4 525.9 L99.6 526 L103.7 521.4 L107.9 510.4 L112.1 498.1 L116.3 485.9 L120.5 474.1 L124.7 461.6 L128.9 451 L133.1 439.1 L137.3 430.9 L141.5 430.1 L145.7 426.7 L149.9 423.2 L154.1 421.7 L158.3 422.1 L162.5 421 L166.7 418.7 L170.9 415.3 L175.1 404.2 L179.3 396.3 L183.5 386.6 L187.7 376.5 L191.9 366.1 L196.1 354.5 L200.3 346.3 L204.5 338.1 L208.7 337.8 L212.9 337.5 L217.1 335.6 L221.3 333.7 L225.5 328.7 L229.7 321.9 L233.9 312 L238.1 307.6 L242.3 302.4 L246.5 295.2 L250.7 291.6 L254.9 287.6 L259.1 286.5 L263.3 291.6 L267.5 301 L271.6 304.4 L275.8 306.9 L280 310.7 L284.2 315.6 L288.4 320.7 L292.6 328.4 L296.8 329.7 L301 327.8 L305.2 326.4 L309.4 320.8 L313.6 315.4 L317.8 311.4 L322 310.2 L326.2 304.7 L330.4 303.5 L334.6 303.4 L338.8 302.1 L343 309 L347.2 315.8 L351.4 320.6 L355.6 323.6 L359.8 328.3 L364 333.7 L368.2 334.1 L372.4 334.9 L376.6 331.5 L380.8 328.8 L385 325.7 L389.2 320.9 L393.4 313.3 L397.6 305.7 L401.8 305.3 L406 302.1 L410.2 299.3 L414.4 298.2 L418.6 297 L422.8 294.7 L427 294.9 L431.2 292.7 L435.4 286 L439.6 277.1 L443.7 267.4 L447.9 255.9 L452.1 242.5 L456.3 229.5 L460.5 217.8 L464.7 206 L468.9 196.2 L473.1 193.8 L477.3 193.4 L481.5 193.5 L485.7 195.6 L489.9 195.3 L494.1 194.1 L498.3 194.3 L502.5 196.2 L506.7 196.3 L510.9 194.5 L515.1 193.6 L519.3 193 L523.5 195.6 L527.7 199.4 L531.9 205.7 L536.1 212 L540.3 216.5 L544.5 221.8 L548.7 226.6 L552.9 230.2 L557.1 230.6 L561.3 229.5 L565.5 225.6 L569.7 217.4 L573.9 211.9 L578.1 205.7 L582.3 194.5 L586.5 190.4 L590.7 190.5 L594.9 189.3 L599.1 187.9 L603.3 191.5 L607.4 198.8 L611.6 206 L615.8 219.2 L620 221.1 L624.2 223.6 L628.4 228.5 L632.6 237.6 L636.8 243.2 L641 245.1 L645.2 247.2 L649.4 252.2 L653.6 262 L657.8 270.7 L662 276 L666.2 274.6 L670.4 274.6 L674.6 275.2 L678.8 277.5 L683 275.4 L687.2 272.6 L691.4 267.9 L695.6 265.1 L699.8 261.8 L704 257.1 L708.2 250.7 L712.4 244.2 L716.6 237.9 L720.8 232.6 L725 226.8 L729.2 220.6 L733.4 216.8 L737.6 216.5 L741.8 216.8 L746 217.7 L750.2 220.8 L754.4 224.9 L758.6 229.3 L762.8 238.5 L767 247.5 L771.2 254.9 L775.3 259.4 L779.5 260.5 L783.7 258.8 L787.9 250.8 L792.1 241.8 L796.3 225.6 L800.5 210.1 L804.7 193.2 L808.9 177.9 L813.1 169.3 L817.3 158 L821.5 154.2 L825.7 163.5 L829.9 177.6 L834.1 186.6 L838.3 196.7 L842.5 210.9 L846.7 223.9 L850.9 242.4 L855.1 261.1 L859.3 268.3 L863.5 270.8 L867.7 276.3 L871.9 284.7 L876.1 291.3 L880.3 292.1 L884.5 288.6 L888.7 282.2 L892.9 273.2 L897.1 266.7 L901.3 263.8 L905.5 261.8 L909.7 260.9 L913.9 261.5 L918.1 262.8 L922.3 264.1 L926.5 273.9 L930.7 289.2 L934.9 300.3 L939.1 311 L943.2 317.2 L947.4 326 L951.6 332.5 L955.8 338.2 L960 342.5 L964.2 342.3 L968.4 347.4 L972.6 355.8 L976.8 365.3 L981 375.2 L985.2 390.6 L989.4 406.5 L993.6 420.6 L997.8 439.1 L1002 456.9 L1006.2 468.9 L1010.4 479.5 L1014.6 486.7 L1018.8 492.6 L1023 495.6 L1027.2 495.7 L1031.4 490.3 L1035.6 483.2 L1039.8 476.3 L1044 476.9 L1048.2 473.2 L1052.4 465.7 L1056.6 463.7 L1060.8 466.1 L1065 468.1 L1069.2 468.7 L1073.4 468.3 L1077.6 460.6 L1081.8 459.7 L1086 460.9 L1090.2 463.1 L1094.4 462 L1098.6 463.4 L1102.8 468.2 L1107 471.6 L1111.1 479.5 L1115.3 487.6 L1119.5 492.9 L1123.7 495.3 L1127.9 497.3 L1132.1 496.8 L1136.3 495.5 L1140.5 495.8 L1144.7 494.7 L1148.9 492.4 L1153.1 492.7 L1157.3 493.3 L1161.5 495.1 L1165.7 495.3 L1169.9 495.3 L1174.1 493.9 L1178.3 490.5 L1182.5 486.4 L1186.7 481.9 L1190.9 474.6 L1195.1 466.6 L1199.3 463 L1203.5 458.8 L1207.7 456.6 L1211.9 456.1 L1216.1 455.8 L1220.3 456.1 L1224.5 454.3 L1228.7 450.3 L1232.9 445.1 L1237.1 439.5 L1241.3 434 L1245.5 430 L1249.7 427.9 L1253.9 431.5 L1258.1 438.9 L1262.3 448 L1266.5 455.3 L1270.7 463.3 L1274.9 473.7 L1279 480.3 L1283.2 484.4 L1287.4 483.2 L1291.6 489.2 L1295.8 495.8 L1300 509.1 L1304.2 523.9 L1308.4 533.4 L1312.6 548.8 L1316.8 568.6 L1321 600.9 L1325.2 617.9 L1329.4 636.1 L1333.6 646.3 L1337.8 654.6 L1342 666.7 L1346.2 677.3 L1350.4 685.6 L1354.6 678.2 L1358.8 679.1 L1363 679.7 L1367.2 681.4 L1371.4 684.6 L1375.6 687.4 L1379.8 687.5 L1384 685.3 L1388.2 686.5 L1392.4 689.2 L1396.6 694.2 L1400.8 700.1 L1405 699.5 L1409.2 698.3 L1413.4 699.7 L1417.6 700.9 L1421.8 703.5 L1426 701.9 L1430.2 697.4 L1434.4 687 L1438.6 683.4 L1442.8 682.6 L1446.9 680.8 L1451.1 682.1 L1455.3 678.9 L1459.5 677.6 L1463.7 675.3 L1467.9 678 L1472.1 677.9 L1476.3 674.1 L1480.5 667.3 L1484.7 656.4 L1488.9 649.6 L1493.1 647.9 L1497.3 648.2 L1501.5 648.1 L1505.7 650.5 L1509.9 654.1" stroke="#f23645" stroke-width="1.2" fill="none" stroke-linejoin="round"/>
<path d="M15.6 531.6V556.8M19.8 514.8V545.3M28.2 530.8V557.8M32.4 524.8V553M45 557.8V623.6M53.4 534.5V622.4M61.8 527.3V579.6M66 511.1V541M74.4 512.3V533.3M82.8 515.3V535.9M87 515.9V531.6M95.4 514.1V526.1M99.6 517.4V529.9M103.7 485.4V518.8M107.9 432.7V496.9M112.1 425.9V452.9M116.3 431.5V455M120.5 413V443.5M133.1 416.8V443.8M145.7 397.9V431M149.9 393.8V408.7M162.5 419.9V437M166.7 404.5V438.7M170.9 396.2V413M175.1 333.4V403.6M183.5 325.3V345.9M196.1 325.2V359.6M204.5 333.4V360.3M217.1 308.2V343.7M225.5 302.6V332.5M229.7 269V313.9M233.9 256.5V283.9M242.3 281.4V306.2M246.5 283.1V308.8M250.7 271.4V289.1M271.6 325.5V343.4M275.8 317V337M280 315.3V337.5M296.8 321.6V362.7M301 315.3V334.8M305.2 310.1V321.6M309.4 270.2V319M313.6 272V292M326.2 313.9V346.8M334.6 310.5V330.2M338.8 286.2V325M347.2 319.4V339.6M368.2 314.8V376.9M372.4 311.8V327.9M376.6 293.7V316.1M385 298.5V311.3M389.2 300.2V306.7M393.4 290.3V303.6M406 278.3V323.8M410.2 270.6V289.6M418.6 291.3V297.6M422.8 279.3V297.1M431.2 283.9V300.5M435.4 255.3V292M439.6 210.8V270.7M443.7 189.3V224.8M452.1 183.7V204.8M456.3 146.9V188.5M464.7 177.4V207.3M468.9 169.3V202.2M485.7 181.3V212.5M489.9 175.7V215M506.7 194.5V207M510.9 180.8V199.6M540.3 229.6V257M544.5 221V236.4M552.9 220.2V243.3M557.1 201.3V231.3M569.7 185.1V213.8M578.1 175.1V196.2M582.3 141.9V188.5M594.9 197.9V206M599.1 191.9V205.6M611.6 231.3V252.7M620 203.9V259.6M636.8 252.7V288.7M645.2 242.5V267.8M653.6 287V301.5M662 277.1V302.7M666.2 258.7V291.3M670.4 251.9V270.7M687.2 261V275M691.4 247.9V269.9M699.8 233.9V266.8M704 221.6V242.5M708.2 209.6V228.8M720.8 209.9V231.3M725 208.2V229.1M733.4 198.5V215.9M741.8 215.9V222.8M758.6 239V265.1M767 272.9V289.6M775.3 253.6V283.6M779.5 232.5V259.6M787.9 191V237.3M792.1 167.9V194.8M796.3 139.7V184.5M800.5 150.3V162.8M804.7 122.5V156.8M808.9 117.4V147.9M817.3 137.1V167.9M834.1 219.3V279.2M838.3 216.7V239.8M859.3 300.2V312.2M863.5 281.3V313.9M867.7 259.1V301M880.3 263.4V300.2M884.5 255.7V278.8M888.7 258.2V269.3M892.9 222.3V263.4M913.9 265.9V293.3M918.1 271.9V281.8M922.3 264.7V287.7M934.9 330.1V384.1M943.2 334.9V381.8M951.6 320.7V360.1M955.8 309.2V332.2M976.8 406V430.3M989.4 435.1V479.6M1010.4 490.4V524.1M1014.6 479.2V518.1M1023 465.9V507.8M1027.2 453V470.7M1048.2 449.6V508.7M1052.4 430.8V461.6M1069.2 454.2V493.3M1073.4 450.1V475.8M1077.6 426.2V476.2M1086 436.4V478.7M1107 491.2V518.1M1119.5 477.9V519.8M1123.7 485.6V492.9M1127.9 481.3V496.4M1140.5 491.6V507.8M1148.9 477V504.9M1153.1 492.2V500.7M1157.3 491V496.8M1165.7 478.5V503.3M1174.1 483.1V497.3M1178.3 462.5V484.8M1182.5 464.8V477.3M1186.7 454.8V466.5M1190.9 424.5V457.9M1216.1 461.3V469.9M1220.3 448.2V470.8M1224.5 410.5V462.5M1228.7 394V427.6M1258.1 467V499M1262.3 469V487.5M1266.5 460.5V486.5M1279 483.6V506.7M1283.2 477.3V499.5M1287.4 467.3V483.6M1308.4 576V622.7M1325.2 650.1V764.9M1333.6 645V677.9M1354.6 672.4V707.8M1358.8 662.1V679.6M1367.2 666.2V693.6M1379.8 694.1V709.6M1384 679.6V701.5M1405 666.7V725.8M1417.6 689V735.2M1426 665.9V713M1434.4 626.8V692.4M1455.3 671.9V707.8M1459.5 649.6V683.4M1463.7 653.9V675.3M1467.9 659V674.8M1472.1 628.2V664.5M1476.3 653.9V664.2M1480.5 635.4V659M1484.7 618.8V644M1501.5 653.9V673.1" stroke="#26a69a" stroke-width="1.1" fill="none"/>
<path d="M13.7 544.8h3.8V546.2h-3.8zM17.9 519.1h3.8V544.8h-3.8zM26.3 538.5h3.8V544.8h-3.8zM30.5 532h3.8V538.5h-3.8zM43.1 577.8h3.8V585.5h-3.8zM51.5 543.9h3.8V606.1h-3.8zM59.9 536.7h3.8V573.9h-3.8zM64.1 517.9h3.8V536.7h-3.8zM72.5 524.8h3.8V533h-3.8zM80.9 530.2h3.8V533.8h-3.8zM85.1 521.3h3.8V530.2h-3.8zM93.5 520.1h3.8V525.6h-3.8zM97.7 518.8h3.8V520.1h-3.8zM101.8 496.2h3.8V518.8h-3.8zM106 437h3.8V496.2h-3.8zM110.2 435.3h3.8V437.5h-3.8zM114.4 432.7h3.8V434.9h-3.8zM118.6 426.4h3.8V432.7h-3.8zM131.2 422.9h3.8V435.3h-3.8zM143.8 408.2h3.8V430.5h-3.8zM148 404.5h3.8V408.2h-3.8zM160.6 426.2h3.8V430.1h-3.8zM164.8 405h3.8V426.2h-3.8zM169 403.3h3.8V405h-3.8zM173.2 342.3h3.8V403.3h-3.8zM181.6 326.9h3.8V344.9h-3.8zM194.2 333.7h3.8V346.6h-3.8zM202.6 337.2h3.8V339.7h-3.8zM215.2 311.1h3.8V343.2h-3.8zM223.6 306.8h3.8V318.8h-3.8zM227.8 279.3h3.8V306.7h-3.8zM232 259.5h3.8V279.7h-3.8zM240.4 298.5h3.8V302.3h-3.8zM244.6 285.7h3.8V298.5h-3.8zM248.8 282.2h3.8V285.7h-3.8zM269.8 329.3h3.8V334.8h-3.8zM273.9 318.2h3.8V329.3h-3.8zM278.1 316.5h3.8V318.2h-3.8zM294.9 331h3.8V358.8h-3.8zM299.1 319.4h3.8V331h-3.8zM303.3 318.2h3.8V319.4h-3.8zM307.5 273.7h3.8V318.2h-3.8zM311.7 272.7h3.8V273.7h-3.8zM324.3 315.1h3.8V318.2h-3.8zM332.7 319h3.8V320.8h-3.8zM336.9 307.4h3.8V319h-3.8zM345.3 326.7h3.8V329.3h-3.8zM366.3 321.6h3.8V364.4h-3.8zM370.5 313.9h3.8V321.6h-3.8zM374.7 302.3h3.8V313.9h-3.8zM383.1 304h3.8V305h-3.8zM387.3 302.8h3.8V305h-3.8zM391.5 292.5h3.8V302.8h-3.8zM404.1 287.9h3.8V318.2h-3.8zM408.3 280.5h3.8V287.9h-3.8zM416.7 294.2h3.8V295.9h-3.8zM420.9 284.5h3.8V294.2h-3.8zM429.3 286.8h3.8V293.7h-3.8zM433.5 264.2h3.8V286.8h-3.8zM437.7 217.3h3.8V264.2h-3.8zM441.8 202.5h3.8V217.3h-3.8zM450.2 187.1h3.8V203.9h-3.8zM454.4 180.3h3.8V187.1h-3.8zM462.8 191.9h3.8V200.5h-3.8zM467 186.4h3.8V191.9h-3.8zM483.8 203.8h3.8V204.8h-3.8zM488 178.2h3.8V203.9h-3.8zM504.8 198.8h3.8V201.8h-3.8zM509 184.2h3.8V198.8h-3.8zM538.4 235.1h3.8V251.5h-3.8zM542.6 227h3.8V235.1h-3.8zM551 227.5h3.8V235.6h-3.8zM555.2 203h3.8V227.5h-3.8zM567.8 185.9h3.8V213.3h-3.8zM576.2 177.4h3.8V191.1h-3.8zM580.4 146h3.8V177.4h-3.8zM593 202.5h3.8V203.9h-3.8zM597.2 202.2h3.8V203.9h-3.8zM609.7 234.8h3.8V249h-3.8zM618.1 209.1h3.8V252.4h-3.8zM634.9 259.2h3.8V275h-3.8zM643.3 251.4h3.8V264.4h-3.8zM651.7 287.8h3.8V292.1h-3.8zM660.1 283.9h3.8V293.8h-3.8zM664.3 264.4h3.8V283.9h-3.8zM668.5 259.1h3.8V264.4h-3.8zM685.3 265.6h3.8V274.7h-3.8zM689.5 256.2h3.8V265.6h-3.8zM697.9 237.7h3.8V261.6h-3.8zM702.1 222.3h3.8V237.7h-3.8zM706.3 217.1h3.8V222.3h-3.8zM718.9 223.3h3.8V224.8h-3.8zM723.1 209.1h3.8V223.3h-3.8zM731.5 206.8h3.8V212.5h-3.8zM739.9 219.3h3.8V220.5h-3.8zM756.7 243.8h3.8V256.5h-3.8zM765.1 279.3h3.8V286.1h-3.8zM773.4 254.8h3.8V279.3h-3.8zM777.6 233.9h3.8V254.8h-3.8zM786 191.9h3.8V236.9h-3.8zM790.2 172.5h3.8V191.9h-3.8zM794.4 156.4h3.8V172.5h-3.8zM798.6 154.7h3.8V156.4h-3.8zM802.8 144.5h3.8V154.7h-3.8zM807 132.8h3.8V144.5h-3.8zM815.4 146.2h3.8V164.8h-3.8zM832.2 227h3.8V268.9h-3.8zM836.4 225.3h3.8V227h-3.8zM857.4 304.1h3.8V311h-3.8zM861.6 289.4h3.8V304.1h-3.8zM865.8 270.5h3.8V289.4h-3.8zM878.4 275.3h3.8V299.7h-3.8zM882.6 266.4h3.8V275.3h-3.8zM886.8 259.9h3.8V266.4h-3.8zM891 232.2h3.8V259.9h-3.8zM912 280.5h3.8V292.8h-3.8zM916.2 276.2h3.8V280.5h-3.8zM920.4 271.1h3.8V276.2h-3.8zM933 336.6h3.8V359.6h-3.8zM941.3 342.1h3.8V361.3h-3.8zM949.7 328.1h3.8V351.5h-3.8zM953.9 316.1h3.8V328.1h-3.8zM974.9 418.3h3.8V427.9h-3.8zM987.5 443.3h3.8V451.3h-3.8zM1008.5 502.7h3.8V523.8h-3.8zM1012.7 489h3.8V502.7h-3.8zM1021.1 467.3h3.8V498.1h-3.8zM1025.3 459h3.8V467.3h-3.8zM1046.3 459h3.8V507.8h-3.8zM1050.5 438h3.8V459h-3.8zM1067.3 467.9h3.8V478.7h-3.8zM1071.5 465.5h3.8V467.9h-3.8zM1075.7 445.9h3.8V465.5h-3.8zM1084.1 447.4h3.8V451.8h-3.8zM1105.1 492.9h3.8V506.6h-3.8zM1117.6 490.4h3.8V516.4h-3.8zM1121.8 487.8h3.8V490.4h-3.8zM1126 485.6h3.8V487.8h-3.8zM1138.6 495.3h3.8V496.7h-3.8zM1147 498.1h3.8V499.8h-3.8zM1151.2 493.4h3.8V498.2h-3.8zM1155.4 492.2h3.8V493.4h-3.8zM1163.8 487.5h3.8V499.9h-3.8zM1172.2 484.5h3.8V496.1h-3.8zM1176.4 472.1h3.8V484.5h-3.8zM1180.6 466h3.8V472.1h-3.8zM1184.8 457.1h3.8V466h-3.8zM1189 433.9h3.8V457.1h-3.8zM1214.2 463.4h3.8V468.2h-3.8zM1218.4 460h3.8V463.9h-3.8zM1222.6 419h3.8V460h-3.8zM1226.8 404h3.8V419h-3.8zM1256.2 477.9h3.8V488.7h-3.8zM1260.4 476.7h3.8V477.9h-3.8zM1264.6 476.2h3.8V477.3h-3.8zM1277.1 488.7h3.8V505.9h-3.8zM1281.3 480.2h3.8V488.7h-3.8zM1285.5 479h3.8V480.2h-3.8zM1306.5 582.3h3.8V599.5h-3.8zM1323.3 662.1h3.8V737.5h-3.8zM1331.7 664.2h3.8V674.8h-3.8zM1352.7 678.2h3.8V704.4h-3.8zM1356.9 669.3h3.8V678.2h-3.8zM1365.3 677.9h3.8V679.6h-3.8zM1377.9 696.7h3.8V701.8h-3.8zM1382.1 686.8h3.8V696.7h-3.8zM1403.1 687.3h3.8V725h-3.8zM1415.7 696.7h3.8V707.8h-3.8zM1424.1 678.2h3.8V708.7h-3.8zM1432.5 641.1h3.8V683.9h-3.8zM1453.4 683h3.8V707h-3.8zM1457.6 667.9h3.8V683h-3.8zM1461.8 665.5h3.8V667.9h-3.8zM1466 662.5h3.8V665.5h-3.8zM1470.2 658.2h3.8V662.5h-3.8zM1474.4 655.3h3.8V658.2h-3.8zM1478.6 639.3h3.8V655.3h-3.8zM1482.8 619.3h3.8V639.3h-3.8zM1499.6 661.6h3.8V667.6h-3.8z" fill="#26a69a"/>
<path d="M11.4 535V553.9M24 485.9V546.5M36.6 528.2V546.5M40.8 533.3V597.5M49.2 561.1V606.1M57.6 542.7V584.7M70.2 509.9V540.2M78.6 505.9V534.2M91.2 519.3V526.8M124.7 419.9V433.2M128.9 419.9V436.1M137.3 418.2V435.3M141.5 420.4V443M154.1 403.6V415.1M158.3 410.1V431M179.3 331.7V350.9M187.7 325.3V340.8M191.9 317.6V362.5M200.3 331.2V344.2M208.7 329.1V341.1M212.9 338V348.3M221.3 304.3V353.1M238.1 258.3V306.2M254.9 268.5V299.9M259.1 283.1V307.4M263.3 286.2V320.8M267.5 312.2V338.2M284.2 306.7V325M288.4 314.8V332.4M292.6 315.3V370.1M317.8 272V294.7M322 287.9V318.7M330.4 313V331.4M343 298.2V341M351.4 323.3V335.3M355.6 310.1V350.7M359.8 335.3V364.4M364 341.3V391M380.8 293V309.1M397.6 288.2V305.3M401.8 300.2V322.1M414.4 278.8V301.9M427 279.3V300.5M447.9 195.3V208.2M460.5 179.1V219.3M473.1 169.7V208.7M477.3 192.8V204.8M481.5 189.3V212.5M494.1 177.4V203.9M498.3 183V205.6M502.5 192.8V229.2M515.1 180.3V203.9M519.3 185.9V209M523.5 190.2V220.2M527.7 189.3V222.4M531.9 217.3V250.1M536.1 237.3V257M548.7 225.8V251M561.3 201.8V219.3M565.5 198.8V214.2M573.9 156V197.1M586.5 134.6V202.2M590.7 185.1V209M603.3 201.4V229.6M607.4 210.8V250.2M615.8 229.1V256.5M624.2 208.2V231.3M628.4 221.9V269.9M632.6 240.8V283.2M641 250.2V272.4M649.4 250.2V300.7M657.8 281.5V294.7M674.6 254.8V282.7M678.8 243.3V274.1M683 263.4V275.9M695.6 244.5V266.4M712.4 213.7V225.7M716.6 215.1V225.3M729.2 204.8V229.6M737.6 203.1V225.7M746 217.6V225.3M750.2 223.3V258.7M754.4 243.8V261.3M762.8 242.5V289.6M771.2 278.1V284.4M783.7 229.1V249.7M813.1 128V171.8M821.5 141V181.6M825.7 153.4V305.4M829.9 242.7V279.2M842.5 222.7V276.6M846.7 240.3V274.1M850.9 257.4V301M855.1 283.6V339.6M871.9 236.8V301M876.1 283.9V308.7M897.1 213.7V238.5M901.3 216.8V254.5M905.5 240.2V284.8M909.7 260.8V312.7M926.5 267.6V322.4M930.7 302.7V384.6M939.1 333.2V371.2M947.4 341.3V359.6M960 301V349.8M964.2 321.9V365.8M968.4 334.9V389.2M972.6 376V433M981 407.7V442.8M985.2 413.7V459.9M993.6 442.8V486.4M997.8 441.9V510.8M1002 497.1V564.3M1006.2 515.5V535.8M1018.8 486.4V509.6M1031.4 441.1V469.3M1035.6 459.9V469M1039.8 452.2V469M1044 467.6V531.8M1056.6 432V463.3M1060.8 445V489.9M1065 467.6V482.2M1081.8 427.9V459M1090.2 444.5V476.5M1094.4 465.5V473.6M1098.6 466.7V495M1102.8 471V519M1111.1 468.5V517.6M1115.3 477.5V526.2M1132.1 466.2V491.9M1136.3 482.7V505.6M1144.7 486.4V501.8M1161.5 469V503.6M1169.9 481V500.2M1195.1 428.3V459.6M1199.3 434.8V465.6M1203.5 456.2V479.3M1207.7 452.8V475.5M1211.9 464.8V469M1232.9 401.9V422M1237.1 415.1V430M1241.3 416.8V422.8M1245.5 418.5V436.8M1249.7 435.7V452.8M1253.9 444.7V493.4M1270.7 473.3V481.4M1274.9 480.2V511M1291.6 479V537.5M1295.8 524.2V559.5M1300 527.9V611.8M1304.2 576V612M1312.6 577.7V638.8M1316.8 600V650.1M1321 635.9V743.3M1329.4 650.8V693.6M1337.8 654.8V684.4M1342 662.5V687.3M1346.2 672.7V708.7M1350.4 695.3V715.2M1363 658.2V686.1M1371.4 674.8V699.8M1375.6 682.7V707.8M1388.2 680.4V690.7M1392.4 684.4V694.1M1396.6 689.9V726.7M1400.8 716.4V739.5M1409.2 678.2V701M1413.4 685.1V716.4M1421.8 683.9V715.5M1430.2 674.5V704.4M1438.6 632.5V660.8M1442.8 653.6V689M1446.9 684.4V696.7M1451.1 683.9V709.6M1488.9 608.5V633.7M1493.1 621V662.5M1497.3 651.8V678.7M1505.7 657.3V681.3M1509.9 671V692.9" stroke="#ef5350" stroke-width="1.1" fill="none"/>
<path d="M9.5 543.6h3.8V545.8h-3.8zM22.1 519.1h3.8V545.3h-3.8zM34.7 532.5h3.8V535h-3.8zM38.9 535h3.8V585.5h-3.8zM47.3 577.8h3.8V606.1h-3.8zM55.7 543.9h3.8V573.9h-3.8zM68.3 517.9h3.8V533h-3.8zM76.7 524.8h3.8V533.8h-3.8zM89.3 521.3h3.8V526.1h-3.8zM122.8 425.5h3.8V426.7h-3.8zM127 426.7h3.8V435.3h-3.8zM135.4 422.9h3.8V431h-3.8zM139.6 429.3h3.8V430.5h-3.8zM152.2 404.5h3.8V414.4h-3.8zM156.4 414.4h3.8V430.1h-3.8zM177.4 342.3h3.8V344.9h-3.8zM185.8 326.9h3.8V333.7h-3.8zM190 333.7h3.8V346.6h-3.8zM198.4 333.7h3.8V339.4h-3.8zM206.8 337.2h3.8V339.7h-3.8zM211 339.7h3.8V343.2h-3.8zM219.4 311.1h3.8V318.8h-3.8zM236.2 259.5h3.8V302.3h-3.8zM253 282.2h3.8V286.8h-3.8zM257.2 286.8h3.8V297.6h-3.8zM261.4 297.6h3.8V320.2h-3.8zM265.6 320.2h3.8V334.8h-3.8zM282.3 316.5h3.8V321.1h-3.8zM286.5 321.1h3.8V327.9h-3.8zM290.7 327.9h3.8V358.8h-3.8zM315.9 272.8h3.8V289.6h-3.8zM320.1 289.6h3.8V318.2h-3.8zM328.5 315.1h3.8V320.8h-3.8zM341.1 307.4h3.8V329.3h-3.8zM349.5 326.7h3.8V328.5h-3.8zM353.7 328.5h3.8V341.6h-3.8zM357.9 341.6h3.8V352.9h-3.8zM362.1 352.9h3.8V364.4h-3.8zM378.9 302.3h3.8V305h-3.8zM395.7 292.5h3.8V304h-3.8zM399.9 304h3.8V318.2h-3.8zM412.5 280.5h3.8V295.9h-3.8zM425.1 284.5h3.8V293.7h-3.8zM446 202.5h3.8V203.9h-3.8zM458.6 180.3h3.8V200.5h-3.8zM471.2 186.4h3.8V197.9h-3.8zM475.4 197.8h3.8V198.8h-3.8zM479.6 198.8h3.8V204.8h-3.8zM492.2 178.2h3.8V190.5h-3.8zM496.4 190.5h3.8V194h-3.8zM500.6 194h3.8V201.8h-3.8zM513.2 184.2h3.8V197.4h-3.8zM517.4 197.4h3.8V198.8h-3.8zM521.6 197.9h3.8V199.6h-3.8zM525.8 199.6h3.8V220.7h-3.8zM530 220.7h3.8V244.7h-3.8zM534.2 244.7h3.8V251.5h-3.8zM546.8 227h3.8V235.6h-3.8zM559.4 203h3.8V211.6h-3.8zM563.6 211.6h3.8V213.3h-3.8zM572 185.9h3.8V191.1h-3.8zM584.6 146h3.8V194.5h-3.8zM588.8 194.5h3.8V203.9h-3.8zM601.4 203.1h3.8V214.7h-3.8zM605.5 214.7h3.8V249h-3.8zM613.9 234.8h3.8V252.4h-3.8zM622.3 209.1h3.8V224h-3.8zM626.5 224h3.8V242.1h-3.8zM630.7 242.1h3.8V275h-3.8zM639.1 259.2h3.8V264.4h-3.8zM647.5 251.4h3.8V292.1h-3.8zM655.9 287.8h3.8V293.8h-3.8zM672.7 259.1h3.8V269h-3.8zM676.9 268.2h3.8V269.9h-3.8zM681.1 269.9h3.8V275h-3.8zM693.7 256.2h3.8V261.6h-3.8zM710.5 216.8h3.8V218.2h-3.8zM714.7 218.2h3.8V224.8h-3.8zM727.3 209.6h3.8V212.5h-3.8zM735.7 206.8h3.8V220.5h-3.8zM744.1 219.3h3.8V224.8h-3.8zM748.3 224.8h3.8V249.7h-3.8zM752.5 249.7h3.8V256.5h-3.8zM760.9 243.8h3.8V286.1h-3.8zM769.3 278.8h3.8V279.8h-3.8zM781.8 233.9h3.8V236.5h-3.8zM811.2 132.8h3.8V164.8h-3.8zM819.6 146.2h3.8V161.9h-3.8zM823.8 161.9h3.8V246.7h-3.8zM828 246.7h3.8V268.9h-3.8zM840.6 225.3h3.8V246.7h-3.8zM844.8 246.7h3.8V268.9h-3.8zM849 268.8h3.8V294.2h-3.8zM853.2 294.2h3.8V311h-3.8zM870 270.5h3.8V292.5h-3.8zM874.2 291.6h3.8V299.7h-3.8zM895.2 232.2h3.8V236.8h-3.8zM899.4 236.8h3.8V247.9h-3.8zM903.6 247.9h3.8V275.7h-3.8zM907.8 275.7h3.8V292.8h-3.8zM924.6 271.1h3.8V309.9h-3.8zM928.8 309.9h3.8V359.6h-3.8zM937.2 336.6h3.8V361.3h-3.8zM945.5 342.1h3.8V351.5h-3.8zM958.1 316.1h3.8V344.7h-3.8zM962.3 344.7h3.8V357.9h-3.8zM966.5 357.9h3.8V377.7h-3.8zM970.7 377.7h3.8V427.9h-3.8zM979.1 418.3h3.8V430.8h-3.8zM983.3 430.8h3.8V451.3h-3.8zM991.7 443.3h3.8V457.7h-3.8zM995.9 457.7h3.8V505.8h-3.8zM1000.1 505.8h3.8V520.3h-3.8zM1004.3 520.3h3.8V523.8h-3.8zM1016.9 489h3.8V498.1h-3.8zM1029.5 459h3.8V462.5h-3.8zM1033.7 461.6h3.8V463.3h-3.8zM1037.9 463.8h3.8V468.5h-3.8zM1042.1 468.5h3.8V507.8h-3.8zM1054.7 438h3.8V451.3h-3.8zM1058.9 451.3h3.8V478.2h-3.8zM1063.1 477h3.8V478.7h-3.8zM1079.9 445.9h3.8V451.8h-3.8zM1088.3 447.4h3.8V469h-3.8zM1092.5 467.9h3.8V469.7h-3.8zM1096.7 469.7h3.8V489.9h-3.8zM1100.9 489.9h3.8V506.6h-3.8zM1109.2 492.9h3.8V508.7h-3.8zM1113.4 508.7h3.8V516.4h-3.8zM1130.2 484.4h3.8V485.6h-3.8zM1134.4 486.1h3.8V496.4h-3.8zM1142.8 495.3h3.8V499.8h-3.8zM1159.6 492.5h3.8V499.9h-3.8zM1168 487.5h3.8V496.1h-3.8zM1193.2 433.9h3.8V435.7h-3.8zM1197.4 435.7h3.8V459.1h-3.8zM1201.6 459.1h3.8V461.8h-3.8zM1205.8 461.8h3.8V467h-3.8zM1210 467h3.8V468.2h-3.8zM1231 404h3.8V417.3h-3.8zM1235.2 416.3h3.8V417.3h-3.8zM1239.4 418h3.8V422.5h-3.8zM1243.6 422h3.8V436.5h-3.8zM1247.8 436.5h3.8V446.8h-3.8zM1252 446.8h3.8V488.7h-3.8zM1268.8 476.7h3.8V481h-3.8zM1273 481h3.8V505.9h-3.8zM1289.7 479.7h3.8V525.9h-3.8zM1293.9 525.2h3.8V529.3h-3.8zM1298.1 529.2h3.8V582.7h-3.8zM1302.3 582.3h3.8V599.5h-3.8zM1310.7 582.3h3.8V612h-3.8zM1314.9 612h3.8V638h-3.8zM1319.1 638h3.8V737.5h-3.8zM1327.5 662.1h3.8V674.8h-3.8zM1335.9 664.2h3.8V666.2h-3.8zM1340.1 666.2h3.8V679.2h-3.8zM1344.3 679.2h3.8V696.4h-3.8zM1348.5 696.4h3.8V704.4h-3.8zM1361.1 669.3h3.8V679.6h-3.8zM1369.5 678.2h3.8V691.9h-3.8zM1373.7 691.9h3.8V701.8h-3.8zM1386.3 685.6h3.8V688.2h-3.8zM1390.5 687.3h3.8V690.7h-3.8zM1394.7 690.7h3.8V719.8h-3.8zM1398.9 719.8h3.8V725h-3.8zM1407.3 687.3h3.8V691.9h-3.8zM1411.5 691.9h3.8V707.8h-3.8zM1419.9 696.7h3.8V708.7h-3.8zM1428.3 678.2h3.8V683.9h-3.8zM1436.7 641.1h3.8V658.7h-3.8zM1440.9 658.7h3.8V685.6h-3.8zM1445 685.6h3.8V693.6h-3.8zM1449.2 693.6h3.8V707h-3.8zM1487 619.3h3.8V628.6h-3.8zM1491.2 628.6h3.8V654.8h-3.8zM1495.4 654.8h3.8V667.6h-3.8zM1503.8 662.5h3.8V677.5h-3.8zM1508 677.4h3.8V683.9h-3.8z" fill="#ef5350"/>

<rect x="807.6" y="117" width="704.2" height="648" fill="#00aadc" fill-opacity="0.05"/>
<g fill="#827f7d" fill-opacity="0.25"><rect x="1497.4" y="117.1" width="14.4" height="25.5"/><rect x="1490.8" y="144.1" width="21" height="25.5"/><rect x="1507" y="171.1" width="4.8" height="25.5"/><rect x="1501" y="198.1" width="10.8" height="25.5"/><rect x="1468.3" y="225.1" width="43.5" height="25.5"/><rect x="1437.5" y="252.1" width="74.3" height="25.5"/><rect x="1455.8" y="279.1" width="56" height="25.5"/><rect x="1474.6" y="306.1" width="37.2" height="25.5"/><rect x="1463" y="333.1" width="48.8" height="25.5"/><rect x="1485.7" y="360.1" width="26.1" height="25.5"/><rect x="1474" y="387.1" width="37.8" height="25.5"/><rect x="1423" y="414.1" width="88.8" height="25.5"/><rect x="1334.2" y="441.1" width="177.6" height="25.5"/><rect x="1302.5" y="468.1" width="209.3" height="25.5"/><rect x="1371.9" y="495.1" width="139.9" height="25.5"/><rect x="1454.4" y="522.1" width="57.4" height="25.5"/><rect x="1504.1" y="549.1" width="7.7" height="25.5"/><rect x="1469.1" y="576.1" width="42.7" height="25.5"/><rect x="1466.4" y="603.1" width="45.4" height="25.5"/><rect x="1426.2" y="630.1" width="85.6" height="25.5"/><rect x="1302.4" y="657.1" width="209.4" height="25.5"/><rect x="1326.5" y="684.1" width="185.3" height="25.5"/><rect x="1449" y="711.1" width="62.8" height="25.5"/><rect x="1506" y="738.1" width="5.8" height="25.5"/></g>
<!-- trend lines -->
<g stroke="#2e7332" stroke-width="1.25" fill="none">
<path d="M0 321.3L809.3 115.3L1325.6 765.1L1908 582.2"/>
<path d="M10 165.4H809.3" stroke-width="1.35"/>
</g>
<!-- last price dotted line -->
<path d="M10 683.9H1853" stroke="#ef5350" stroke-width="1.1" stroke-dasharray="1.45 1.45" fill="none"/>
<!-- price range measure -->
<rect x="1614.3" y="684.5" width="85.5" height="79" fill="#4caf50" fill-opacity="0.25"/>
<g stroke="#000" stroke-width="2.8" fill="none" stroke-linecap="round">
<path d="M1614.6 684.6H1699.6M1614.6 763.5H1699.6"/>
<path d="M1656.9 763V686" stroke-linecap="butt"/>
<path d="M1641.8 699L1656.9 685.2L1672 699"/>
</g>
<!-- wave labels -->
<g stroke="#2e7332" stroke-width="1.1" fill="none">
<circle cx="809.3" cy="95.1" r="10.15"/>
<circle cx="1325.5" cy="785.6" r="10.15"/>
</g>
<!-- replay icon -->
<g transform="translate(1510.3 1071.2)">
<circle r="11.6" fill="#fff"/>
<path d="M-9.05 -3.4A9.65 9.65 0 0 1 2.5 -9.3M9.1 -2.9A9.65 9.65 0 0 1 -6.9 6.6" stroke="#9624b4" stroke-width="1.25" fill="none" stroke-linecap="round"/>
<path d="M2.5 -5L-4.1 0.3L-0.5 0.7L-3.4 5.6L3.8 0.2L0.2 -0.3Z" fill="#9624b4"/>
<circle cx="6.4" cy="-6.5" r="2.4" fill="#f0202e"/>
<path d="M-10.3 -1.9C-9.9 1.4 -8.6 2.9 -5.3 3.5C-8.6 4.1 -9.9 5.6 -10.3 8.9C-10.7 5.6 -12 4.1 -15.3 3.5C-12 2.9 -10.7 1.4 -10.3 -1.9Z" fill="#6b3dff" stroke="#fff" stroke-width="1.6" paint-order="stroke"/>
</g>
</g>
<!-- pane borders -->
<path d="M1908.4 26V1110M10 1083.8H1990" stroke="#e0e3eb" stroke-width="1.1" fill="none"/>
<!-- TradingView logo mark -->
<g transform="translate(11.6 1131.7)" fill="#dedede">
<path d="M0 0H11.4V14.4H5.7V5.7H0Z"/>
<circle cx="15.7" cy="2.9" r="2.85"/>
<path d="M21.4 0H28.5L22.4 14.4H15.4Z"/>
</g>
</svg>

<!-- legend -->
<div class="lg" style="top:35.4px"><span class="n">Bitcoin / U.S. Dollar · 1D · Coinbase</span>
<span class="a" style="left:196px">O</span><span class="a red" style="left:204.9px">68,912.02</span>
<span class="a" style="left:264.9px">H</span><span class="a red" style="left:274.6px">69,577.00</span>
<span class="a" style="left:333.8px">L</span><span class="a red" style="left:341.8px">67,332.05</span>
<span class="a" style="left:401.4px">C</span><span class="a red" style="left:411.1px">68,261.59</span>
<span class="a red" style="left:470px;letter-spacing:.36px">−650.43 (−0.94%)</span></div>
<div class="lg" style="top:51.7px"><span class="n">SMA · 1D (8, close)</span><span class="a red" style="left:109.4px;letter-spacing:-.22px">71,310.57</span></div>
<div class="lg" style="top:68.1px"><span class="n">SMA · 1D (50, close)</span><span class="a blue" style="left:116.4px;letter-spacing:.39px">69,330.29</span></div>
<div class="lg" style="top:84.4px"><span class="n">SMA · 1D (200, close)</span><span class="a pur" style="left:123.4px;letter-spacing:.24px">92,570.23</span></div>
<div class="lg" style="top:100.8px"><span class="n" style="letter-spacing:-.1px">EMA · 1D (21, close)</span><span class="a grn" style="left:114px;letter-spacing:-.08px">70,176.34</span></div>
<div class="lg" style="top:117.1px"><span class="n" style="letter-spacing:-.35px">Vol · BTC</span><span class="a red" style="left:55.9px;letter-spacing:-.3px">4.47 K</span></div>

<!-- price axis -->
<div class="pl" style="top:53.1px">132,000.00</div>
<div class="pl" style="top:92.2px">128,000.00</div>
<div class="pl" style="top:131.3px">124,000.00</div>
<div class="pl" style="top:170.3px">120,000.00</div>
<div class="pl" style="top:209.4px">116,000.00</div>
<div class="pl" style="top:248.5px">112,000.00</div>
<div class="pl" style="top:287.6px">108,000.00</div>
<div class="pl" style="top:326.7px">104,000.00</div>
<div class="pl" style="top:365.7px">100,000.00</div>
<div class="pl" style="top:404.8px">96,000.00</div>
<div class="pl" style="top:443.9px">92,000.00</div>
<div class="pl" style="top:483px">88,000.00</div>
<div class="pl" style="top:522.1px">84,000.00</div>
<div class="pl" style="top:561.1px">80,000.00</div>
<div class="pl" style="top:600.2px">76,000.00</div>
<div class="pl" style="top:639.3px">72,000.00</div>
<div class="pl" style="top:678.4px">68,000.00</div>
<div class="pl" style="top:717.5px">64,000.00</div>
<div class="pl" style="top:756.5px">60,000.00</div>
<div class="pl" style="top:795.6px">56,000.00</div>
<div class="pl" style="top:834.7px">52,000.00</div>
<div class="pl" style="top:873.8px">48,000.00</div>
<div class="pl" style="top:912.9px">44,000.00</div>
<div class="pl" style="top:951.9px">40,000.00</div>
<div class="pl" style="top:991px">36,000.00</div>
<div class="pl" style="top:1030.1px">32,000.00</div>
<div class="pl" style="top:1069.2px">28,000.00</div>

<div id="usdcover"></div>
<div id="usd">USD</div>
<div id="sym">BTCUSD</div>
<div id="last">68,261.59<br><i>43:52</i></div>
<div id="pct">13.42%</div>
<div class="wv" style="left:799px;top:85.1px">3</div>
<div class="wv" style="left:1315px;top:775.6px">4</div>

<!-- time axis -->
<div class="tl" style="left:-9.8px">Apr</div>
<div class="tl" style="left:115.7px">May</div>
<div class="tl" style="left:245.8px">Jun</div>
<div class="tl" style="left:371.8px">Jul</div>
<div class="tl" style="left:501.9px">Aug</div>
<div class="tl" style="left:632px">Sep</div>
<div class="tl" style="left:757.9px">Oct</div>
<div class="tl" style="left:888.1px">Nov</div>
<div class="tl" style="left:1014px">Dec</div>
<div class="tl b" style="left:1144.1px">2026</div>
<div class="tl" style="left:1274.2px">Feb</div>
<div class="tl" style="left:1391.8px">Mar</div>
<div class="tl" style="left:1521.9px">Apr</div>
<div class="tl" style="left:1647.8px">May</div>
<div class="tl" style="left:1777.9px">Jun</div>


<div id="tv">TradingView</div>
</body>
</html>
